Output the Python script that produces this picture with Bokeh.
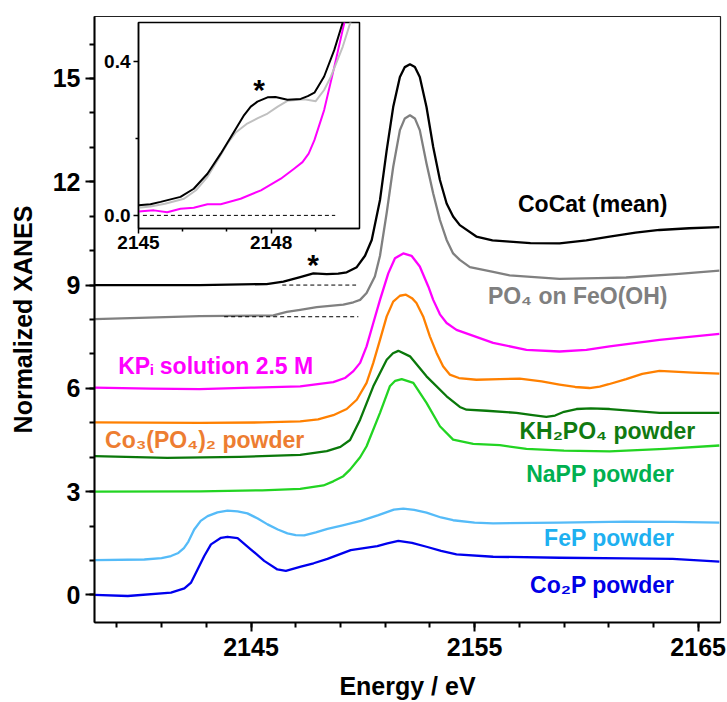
from bokeh.plotting import figure
from bokeh.models import Range1d, FixedTicker, SingleIntervalTicker, Label, GridBox, NumeralTickFormatter
from bokeh.embed import file_html
from bokeh.resources import INLINE

FONT = "Liberation Sans"

# ---------------- data ----------------
cocat_E = [2138.0, 2142.7, 2145.7, 2146.45, 2147.2, 2147.79, 2148.39, 2148.9, 2149.28, 2149.73, 2150.1,
           2150.40, 2150.77, 2151.07, 2151.36, 2151.66, 2151.88, 2152.11, 2152.33, 2152.55, 2152.85,
           2153.15, 2153.45, 2153.75, 2154.04, 2154.34, 2155.08, 2155.8, 2156.57, 2157.5, 2158.8,
           2160.0, 2161.04, 2162.2, 2163.27, 2164.6, 2165.95]
cocat_y = [9.00, 9.00, 9.03, 9.10, 9.23, 9.34, 9.32, 9.33, 9.37, 9.52, 9.85,
           10.31, 11.47, 12.92, 14.17, 15.04, 15.33, 15.41, 15.33, 15.04, 14.17,
           13.01, 12.05, 11.37, 10.99, 10.74, 10.41, 10.30, 10.26, 10.22, 10.21,
           10.30, 10.41, 10.52, 10.60, 10.65, 10.68]

feooh_E = [2138.0, 2140.0, 2142.7, 2146.0, 2146.6, 2147.2, 2147.94, 2149.13, 2149.58, 2149.88, 2150.17,
           2150.54, 2150.77, 2151.07, 2151.36, 2151.66, 2151.88, 2152.11, 2152.33, 2152.55, 2152.85,
           2153.15, 2153.45, 2153.75, 2154.04, 2154.34, 2154.79, 2155.83, 2156.57, 2158.8, 2160.5,
           2161.78, 2164.0, 2165.95]
feooh_y = [8.01, 8.05, 8.10, 8.12, 8.22, 8.28, 8.36, 8.43, 8.50, 8.57, 8.77,
           9.25, 9.85, 11.10, 12.43, 13.50, 13.84, 13.93, 13.84, 13.50, 12.53,
           11.66, 10.89, 10.31, 9.92, 9.73, 9.52, 9.38, 9.28, 9.18, 9.20,
           9.22, 9.32, 9.42]

kpi_E = [2138.0, 2140.5, 2142.7, 2145.0, 2147.2, 2148.68, 2149.2, 2149.58, 2149.88, 2150.17, 2150.47,
         2150.77, 2151.14, 2151.44, 2151.81, 2152.18, 2152.55, 2152.93, 2153.15, 2153.45, 2153.75,
         2154.19, 2154.79, 2155.83, 2157.32, 2158.8, 2160.0, 2161.04, 2163.27, 2165.95]
kpi_y = [6.02, 5.99, 5.98, 6.02, 6.06, 6.18, 6.30, 6.50, 6.74, 7.22, 7.90,
         8.57, 9.34, 9.78, 9.92, 9.85, 9.54, 8.96, 8.57, 8.15, 7.90,
         7.70, 7.56, 7.32, 7.12, 7.07, 7.12, 7.22, 7.41, 7.58]

co3po4_E = [2138.0, 2142.7, 2145.5, 2147.2, 2148.0, 2148.68, 2149.28, 2149.73, 2150.17, 2150.47, 2150.77,
            2151.07, 2151.36, 2151.66, 2151.93, 2152.20, 2152.40, 2152.70, 2153.0, 2153.30, 2153.59,
            2153.89, 2154.3, 2155.08, 2156.13, 2157.02, 2158.0, 2158.8, 2159.5, 2160.14, 2160.6,
            2161.0, 2161.78, 2162.5, 2163.27, 2164.76, 2165.95]
co3po4_y = [5.01, 5.00, 5.01, 5.04, 5.10, 5.22, 5.40, 5.67, 6.16, 6.74, 7.41,
            8.09, 8.52, 8.69, 8.72, 8.62, 8.48, 8.09, 7.51, 7.03, 6.64,
            6.40, 6.30, 6.25, 6.27, 6.28, 6.20, 6.11, 6.04, 6.01, 6.05,
            6.12, 6.27, 6.42, 6.51, 6.46, 6.43]

kh2po4_E = [2138.0, 2141.25, 2144.5, 2147.2, 2148.39, 2149.0, 2149.43, 2149.88, 2150.47, 2151.07, 2151.35,
            2151.59, 2152.11, 2152.85, 2153.75, 2154.34, 2154.64, 2155.53, 2156.87, 2157.6, 2158.21,
            2158.6, 2159.0, 2159.56, 2160.2, 2161.04, 2163.27, 2165.95]
kh2po4_y = [4.03, 3.98, 4.01, 4.07, 4.18, 4.30, 4.50, 5.09, 6.06, 6.83, 7.02,
            7.09, 6.93, 6.35, 5.77, 5.46, 5.38, 5.35, 5.29, 5.22, 5.17,
            5.21, 5.32, 5.40, 5.42, 5.40, 5.29, 5.29]

napp_E = [2138.0, 2142.73, 2145.5, 2147.2, 2148.24, 2148.68, 2149.13, 2149.43, 2149.88, 2150.17, 2150.77,
          2151.21, 2151.45, 2151.74, 2152.26, 2152.85, 2153.45, 2154.04, 2154.94, 2156.13, 2157.32,
          2159.0, 2161.04, 2163.5, 2165.95]
napp_y = [3.00, 3.01, 3.04, 3.08, 3.18, 3.30, 3.45, 3.64, 4.00, 4.32, 5.29,
          6.06, 6.22, 6.27, 6.16, 5.58, 4.90, 4.51, 4.39, 4.35, 4.24,
          4.19, 4.17, 4.24, 4.34]

fep_E = [2138.0, 2140.23, 2141.0, 2141.42, 2141.75, 2142.0, 2142.2, 2142.46, 2142.75, 2143.06, 2143.5,
         2143.95, 2144.4, 2144.84, 2145.3, 2145.74, 2146.2, 2146.63, 2147.0, 2147.38, 2147.9,
         2148.42, 2149.1, 2149.91, 2150.7, 2151.39, 2151.81, 2152.3, 2152.85, 2153.5, 2154.04,
         2155.0, 2155.83, 2158.8, 2161.78, 2163.9, 2165.95]
fep_y = [1.01, 1.03, 1.07, 1.13, 1.22, 1.36, 1.55, 1.90, 2.15, 2.29, 2.40,
         2.45, 2.43, 2.37, 2.22, 2.05, 1.90, 1.79, 1.74, 1.73, 1.82,
         1.92, 2.02, 2.15, 2.32, 2.48, 2.51, 2.47, 2.39, 2.25, 2.17,
         2.10, 2.08, 2.10, 2.13, 2.12, 2.10]

co2p_E = [2138.0, 2139.49, 2141.42, 2142.02, 2142.32, 2142.61, 2142.91, 2143.21, 2143.66, 2143.95, 2144.40,
          2145.0, 2145.59, 2146.18, 2146.56, 2147.23, 2147.8, 2148.42, 2149.46, 2150.65, 2151.1,
          2151.59, 2152.2, 2152.85, 2153.5, 2154.19, 2155.83, 2158.8, 2161.78, 2163.86, 2165.95]
co2p_y = [0.00, -0.03, 0.07, 0.19, 0.36, 0.74, 1.13, 1.47, 1.66, 1.69, 1.65,
          1.32, 0.99, 0.74, 0.70, 0.82, 0.92, 1.05, 1.30, 1.42, 1.50,
          1.57, 1.51, 1.40, 1.28, 1.18, 1.11, 1.08, 1.06, 1.05, 0.97]

# reference (pre-edge) levels in the main plot
cocat_ref_E = [2146.4, 2149.7]
cocat_ref_y = [9.0, 9.0]
feooh_ref_E = [2143.8, 2149.8]
feooh_ref_y = [8.08, 8.08]

# inset data
ins_black_E = [2145.0, 2145.27, 2145.5, 2145.95, 2146.25, 2146.56, 2146.86, 2147.09, 2147.39, 2147.54,
               2147.69, 2147.92, 2148.1, 2148.37, 2148.67, 2148.83, 2148.98, 2149.20, 2149.43, 2149.62]
ins_black_y = [0.026, 0.029, 0.035, 0.048, 0.069, 0.108, 0.160, 0.203, 0.260, 0.282,
               0.295, 0.306, 0.307, 0.300, 0.302, 0.309, 0.318, 0.360, 0.429, 0.500]
ins_grey_E = [2145.0, 2145.27, 2145.6, 2146.03, 2146.3, 2146.56, 2146.8, 2147.01, 2147.2, 2147.46,
              2147.7, 2147.92, 2148.15, 2148.37, 2148.75, 2149.01, 2149.2, 2149.35, 2149.62, 2149.81]
ins_grey_y = [0.020, 0.023, 0.030, 0.043, 0.065, 0.100, 0.145, 0.186, 0.215, 0.238,
              0.252, 0.264, 0.282, 0.297, 0.301, 0.296, 0.325, 0.359, 0.437, 0.506]
ins_mag_E = [2145.0, 2145.35, 2145.65, 2145.95, 2146.25, 2146.56, 2146.86, 2147.31, 2147.77, 2148.22,
             2148.52, 2148.71, 2148.85, 2148.98, 2149.20, 2149.43, 2149.66]
ins_mag_y = [0.010, 0.013, 0.008, 0.017, 0.020, 0.029, 0.029, 0.043, 0.065, 0.095,
             0.121, 0.138, 0.160, 0.195, 0.273, 0.385, 0.501]
ins_ref_E = [2145.1, 2149.45]
ins_ref_y = [0.0, 0.0]

x_major = [2145, 2155, 2165]
x_minor = [2139, 2141, 2143, 2145, 2147, 2149, 2151, 2153, 2155, 2157, 2159, 2161, 2163, 2165]
ins_x_major = [2145, 2148]
ins_x_minor = [2146, 2147, 2149]
ins_y_major = [0.0, 0.4]
ins_y_minor = [0.2]

# (series, x, y, line colour)
series = [
    ("Co2P", co2p_E, co2p_y, "#0000ee"),
    ("FeP", fep_E, fep_y, "#55bbf8"),
    ("NaPP", napp_E, napp_y, "#22d422"),
    ("KH2PO4", kh2po4_E, kh2po4_y, "#0a780a"),
    ("Co3(PO4)2", co3po4_E, co3po4_y, "#ff8000"),
    ("KPi", kpi_E, kpi_y, "#ff00ff"),
    ("FeOOH", feooh_E, feooh_y, "#808080"),
    ("CoCat", cocat_E, cocat_y, "#000000"),
]

# ---------------- main figure ----------------
p = figure(width=727, height=702, output_backend="svg", toolbar_location=None,
           x_range=Range1d(2138, 2166), y_range=Range1d(-0.8, 16.8),
           min_border_left=94, min_border_right=7, min_border_top=16, min_border_bottom=79)
p.grid.visible = False
p.outline_line_color = "#222222"
p.outline_line_width = 1.2
p.background_fill_color = "white"
p.border_fill_color = "white"

for name, xs, ys, col in series:
    p.line(xs, ys, line_color=col, line_width=2.3, line_join="round")

p.line(cocat_ref_E, cocat_ref_y, line_color="black", line_width=1, line_dash="4 3")
p.line(feooh_ref_E, feooh_ref_y, line_color="black", line_width=1, line_dash="4 3")

p.xaxis.ticker = FixedTicker(ticks=x_major, minor_ticks=x_minor)
p.yaxis.ticker = SingleIntervalTicker(interval=3, num_minor_ticks=3)
for ax in (p.xaxis[0], p.yaxis[0]):
    ax.axis_line_width = 2
    ax.axis_line_color = "black"
    ax.major_tick_line_width = 2
    ax.minor_tick_line_width = 2
    ax.major_tick_in = 0
    ax.major_tick_out = 9
    ax.minor_tick_in = 0
    ax.minor_tick_out = 5
    ax.major_label_text_font = FONT
    ax.major_label_text_font_style = "bold"
    ax.major_label_text_font_size = "25px"
    ax.major_label_text_color = "black"
    ax.axis_label_text_font = FONT
    ax.axis_label_text_font_style = "bold"
    ax.axis_label_text_font_size = "25px"
    ax.axis_label_text_color = "black"
p.xaxis.axis_label = "Energy / eV"
p.yaxis.axis_label = "Normalized XANES"
p.xaxis.major_label_standoff = 6
p.yaxis.major_label_standoff = 5
p.xaxis.axis_label_standoff = 13
p.yaxis.axis_label_standoff = 13

labels = [
    ("CoCat (mean)", 2163.63, 11.35, "#000000"),
    ("PO\u2084 on FeO(OH)", 2163.63, 8.67, "#7f7f7f"),
    ("KP\u1d62 solution 2.5 M", 2147.78, 6.64, "#ff00ff"),
    ("Co\u2083(PO\u2084)\u2082 powder", 2147.38, 4.51, "#ed7d31"),
    ("KH\u2082PO\u2084 powder", 2164.87, 4.75, "#117a11"),
    ("NaPP powder", 2163.94, 3.50, "#00b050"),
    ("FeP powder", 2163.94, 1.66, "#1eb0f0"),
    ("Co\u2082P powder", 2163.94, 0.28, "#0000e6"),
]
for txt, lx, ly, col in labels:
    p.add_layout(Label(x=lx, y=ly, text=txt, text_align="right", text_baseline="middle",
                       text_font=FONT, text_font_style="bold", text_font_size="23px",
                       text_color=col))

p.add_layout(Label(x=2147.78, y=9.68, text="*", text_align="center", text_baseline="middle",
                   text_font=FONT, text_font_style="bold", text_font_size="30px", text_color="black",
                   y_offset=-3))

# ---------------- inset ----------------
p2 = figure(width=265, height=244, output_backend="svg", toolbar_location=None,
            x_range=Range1d(2145, 2150), y_range=Range1d(-0.034, 0.5),
            min_border_left=40, min_border_right=4, min_border_top=4, min_border_bottom=34,
            sizing_mode="fixed")
p2.grid.visible = False
p2.border_fill_color = None
p2.border_fill_alpha = 0
p2.background_fill_color = "white"
p2.outline_line_color = "black"
p2.outline_line_width = 1.5

p2.line(ins_ref_E, ins_ref_y, line_color="black", line_width=1, line_dash="4 3")
p2.line(ins_mag_E, ins_mag_y, line_color="#ff00ff", line_width=2, line_join="round")
p2.line(ins_grey_E, ins_grey_y, line_color="#c0c0c0", line_width=2, line_join="round")
p2.line(ins_black_E, ins_black_y, line_color="black", line_width=2, line_join="round")

p2.xaxis.ticker = FixedTicker(ticks=ins_x_major, minor_ticks=ins_x_minor)
p2.yaxis.ticker = FixedTicker(ticks=ins_y_major, minor_ticks=ins_y_minor)
p2.yaxis.formatter = NumeralTickFormatter(format="0.0")
for ax in (p2.xaxis[0], p2.yaxis[0]):
    ax.axis_line_width = 1.5
    ax.axis_line_color = "black"
    ax.major_tick_line_width = 1.5
    ax.minor_tick_line_width = 1.5
    ax.major_tick_in = 0
    ax.major_tick_out = 5
    ax.minor_tick_in = 0
    ax.minor_tick_out = 3
    ax.major_label_text_font = FONT
    ax.major_label_text_font_style = "bold"
    ax.major_label_text_font_size = "19px"
    ax.major_label_text_color = "black"
p2.xaxis.major_label_standoff = 2
p2.yaxis.major_label_standoff = 3

p2.add_layout(Label(x=2147.73, y=0.338, text="*", text_align="center", text_baseline="middle",
                    text_font=FONT, text_font_style="bold", text_font_size="30px", text_color="black",
                    y_offset=-5))

layout = GridBox(children=[(p, 0, 0, 3, 3), (p2, 1, 1, 1, 1)],
                 rows=["18px", "244px", "440px"], cols=["98px", "265px", "364px"])

open("out.html", "w").write(file_html(layout, INLINE))
